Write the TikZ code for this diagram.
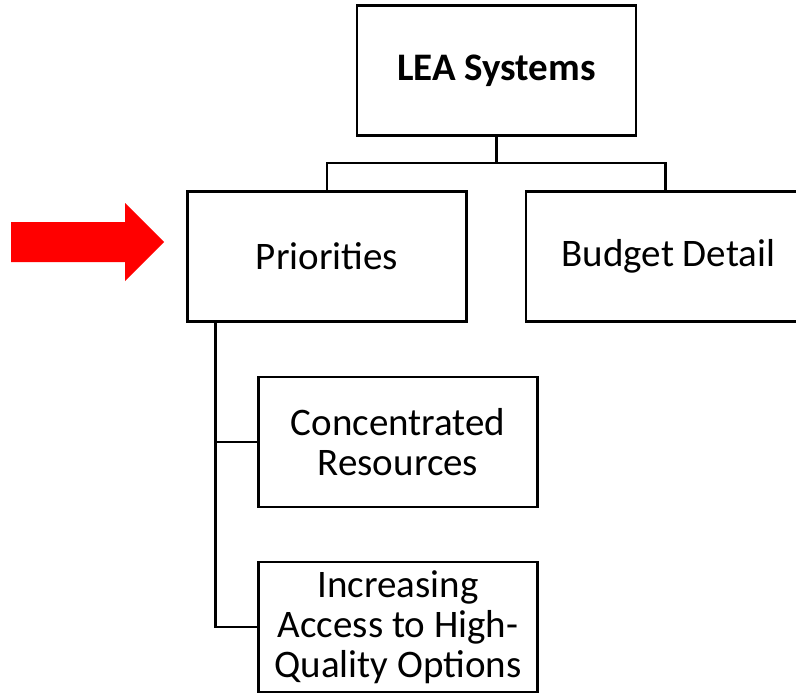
\documentclass[tikz,border=0pt]{standalone}
\usepackage{fontspec}
\setmainfont{Carlito}
\begin{document}
\begin{tikzpicture}[x=1pt,y=-1pt,
  box/.style={draw=black,line width=2.6pt,minimum width=279pt,minimum height=130pt,inner sep=0pt,align=center,
    font=\fontsize{39}{40}\selectfont},
  link/.style={draw=black,line width=2.6pt}]
\useasboundingbox (0,0) rectangle (796,693);
\clip (0,0) rectangle (796,693);
\fill[white] (0,0) rectangle (796,693);
\node[box,font=\fontsize{39}{40}\selectfont\bfseries] (lea) at (496.5,70.5) {LEA Systems};
\node[box] (prio) at (327,256.5) {Priorities};
\node[box] (budget) at (665.5,256.5) {\hspace*{6pt}Budget Detail};
\node[box] (conc) at (398,442) {Concentrated\\Resources};
\node[box] (inc) at (398,627) {Increasing\\Access to High-\\Quality Options};
\coordinate (split) at (496.5,163);
\draw[link] (lea.south) -- (split);
\draw[link] (split) -| (prio.north);
\draw[link] (split) -| (budget.north);
\coordinate (trunk) at ([xshift=29pt]prio.south west);
\draw[link] (trunk) |- (conc.west);
\draw[link] (trunk) |- (inc.west);
\fill[red] (11,222) -- (125,222) -- (125,203) -- (164,242) -- (125,281) -- (125,262) -- (11,262) -- cycle;
\end{tikzpicture}
\end{document}
